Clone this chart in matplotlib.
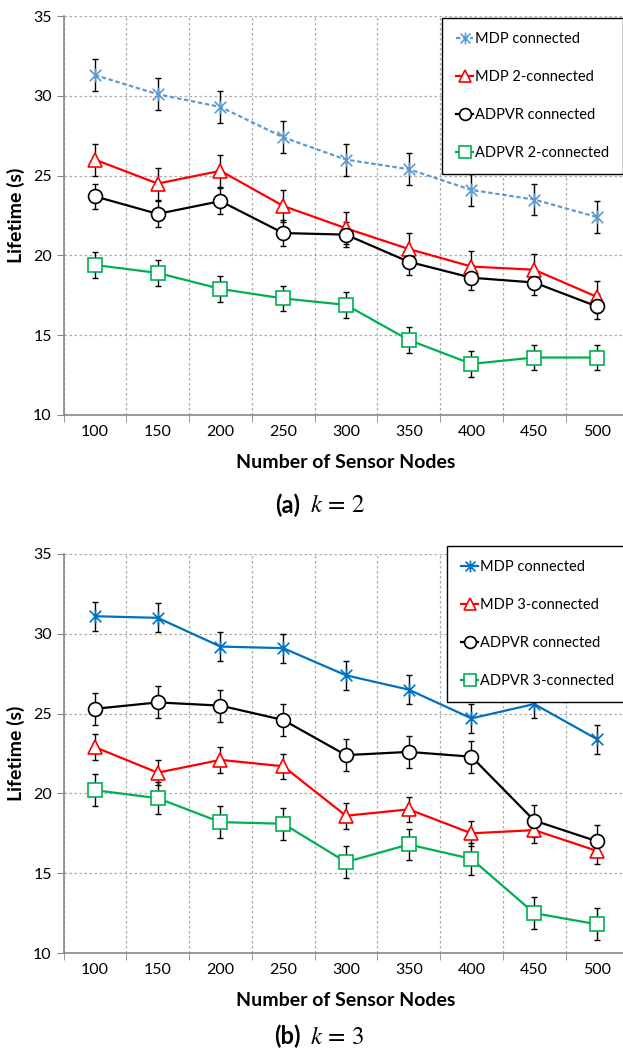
import numpy as np
import matplotlib
matplotlib.use('Agg')
import matplotlib.pyplot as plt
from matplotlib.path import Path

plt.rcParams['font.family'] = ['Lato', 'DejaVu Sans']
plt.rcParams['mathtext.fontset'] = 'stix'

nodes = ['100', '150', '200', '250', '300', '350', '400', '450', '500']

# (a) k = 2
a_mdp_c = [31.3, 30.1, 29.3, 27.4, 26.0, 25.4, 24.1, 23.5, 22.4]
a_mdp_k = [26.0, 24.5, 25.3, 23.1, 21.7, 20.4, 19.3, 19.1, 17.4]
a_adp_c = [23.7, 22.6, 23.4, 21.4, 21.3, 19.6, 18.6, 18.3, 16.8]
a_adp_k = [19.4, 18.9, 17.9, 17.3, 16.9, 14.7, 13.2, 13.6, 13.6]
a_err_mdp_c = [1.0, 1.0, 1.0, 1.0, 1.0, 1.0, 1.0, 1.0, 1.0]
a_err_mdp_k = [1.0, 1.0, 1.0, 1.0, 1.0, 1.0, 1.0, 1.0, 1.0]
a_err_adp_c = [0.8, 0.8, 0.8, 0.8, 0.8, 0.8, 0.8, 0.8, 0.8]
a_err_adp_k = [0.8, 0.8, 0.8, 0.8, 0.8, 0.8, 0.8, 0.8, 0.8]

# (b) k = 3
b_mdp_c = [31.1, 31.0, 29.2, 29.1, 27.4, 26.5, 24.7, 25.6, 23.4]
b_mdp_k = [22.9, 21.3, 22.1, 21.7, 18.6, 19.0, 17.5, 17.7, 16.4]
b_adp_c = [25.3, 25.7, 25.5, 24.6, 22.4, 22.6, 22.3, 18.3, 17.0]
b_adp_k = [20.2, 19.7, 18.2, 18.1, 15.7, 16.8, 15.9, 12.5, 11.8]
b_err_mdp_c = [0.9, 0.9, 0.9, 0.9, 0.9, 0.9, 0.9, 0.9, 0.9]
b_err_mdp_k = [0.8, 0.8, 0.8, 0.8, 0.8, 0.8, 0.8, 0.8, 0.8]
b_err_adp_c = [1.0, 1.0, 1.0, 1.0, 1.0, 1.0, 1.0, 1.0, 1.0]
b_err_adp_k = [1.0, 1.0, 1.0, 1.0, 1.0, 1.0, 1.0, 1.0, 1.0]

x = np.arange(len(nodes))

# excel style asterisk: an x plus a vertical stroke
star = Path([(-1, -1), (1, 1), (-1, 1), (1, -1), (0, -1.2), (0, 1.2)],
            [Path.MOVETO, Path.LINETO] * 3)


def panel(ax, series, k, blue, blue_ls):
    names = ['MDP connected', 'MDP %d-connected' % k,
             'ADPVR connected', 'ADPVR %d-connected' % k]
    colors = [blue, '#FF0000', 'black', '#00B050']
    markers = [star, '^', 'o', 's']
    styles = [blue_ls, '-', '-', '-']
    handles = []
    for (y, e), n, c, m, ls in zip(series, names, colors, markers, styles):
        ax.errorbar(x, y, yerr=e, fmt='none', ecolor='black', elinewidth=1,
                    capsize=2.5, capthick=1, zorder=2)
        h, = ax.plot(x, y, color=c, ls=ls, lw=1.6, marker=m, ms=10,
                     mfc='white', mec=c, mew=1.2, label=n, zorder=3)
        handles.append(h)
    ax.set_xlim(-0.5, len(nodes) - 0.5)
    ax.set_ylim(10, 35)
    ax.set_yticks([10, 15, 20, 25, 30, 35])
    ax.set_xticks(x)
    ax.set_xticklabels(nodes)
    ax.set_xticks(np.arange(-0.5, len(nodes), 1), minor=True)
    ax.tick_params(axis='x', which='major', length=0, labelsize=11.5, pad=7)
    ax.tick_params(axis='x', which='minor', length=5, color='#888888')
    ax.tick_params(axis='y', labelsize=11.5, length=5, color='#888888')
    ax.grid(True, which='minor', axis='x', ls=(0, (2, 2)), color='#aaaaaa', lw=0.9)
    ax.grid(True, which='major', axis='y', ls=(0, (2, 2)), color='#aaaaaa', lw=0.9)
    for s in ['top', 'right']:
        ax.spines[s].set_visible(False)
    for s in ['left', 'bottom']:
        ax.spines[s].set_color('#888888')
        ax.spines[s].set_linewidth(1.2)
    ax.set_ylabel('Lifetime (s)', fontsize=14, fontweight='bold', labelpad=6)
    ax.set_xlabel('Number of Sensor Nodes', fontsize=14, fontweight='bold', labelpad=11)
    return handles


fig = plt.figure(figsize=(6.23, 10.54), dpi=100)
ax1 = fig.add_axes([0.102, 0.6063, 0.9066, 0.3785])
ax2 = fig.add_axes([0.102, 0.0958, 0.9066, 0.3786])

h1 = panel(ax1, [(a_mdp_c, a_err_mdp_c), (a_mdp_k, a_err_mdp_k),
                 (a_adp_c, a_err_adp_c), (a_adp_k, a_err_adp_k)],
           2, '#5B9BD5', (0, (2, 1.2)))
h2 = panel(ax2, [(b_mdp_c, b_err_mdp_c), (b_mdp_k, b_err_mdp_k),
                 (b_adp_c, b_err_adp_c), (b_adp_k, b_err_adp_k)],
           3, '#0070C0', '-')

for h, anchor in [(h1, (0.7095, 0.983)), (h2, (0.7175, 0.482))]:
    leg = fig.legend(handles=h, loc='upper left', bbox_to_anchor=anchor,
                     fontsize=10.5, frameon=True, fancybox=False, framealpha=1,
                     edgecolor='black', labelspacing=1.65, handlelength=1.2,
                     handletextpad=0.1, borderpad=0.95, borderaxespad=0,
                     markerscale=0.85)
    leg.get_frame().set_linewidth(1.0)

fig.text(0.482, 0.521, '(a)', fontsize=17, fontweight='bold', ha='right', va='center')
fig.text(0.497, 0.521, r'$k\,=\,2$', fontsize=18, ha='left', va='center')
fig.text(0.482, 0.0165, '(b)', fontsize=17, fontweight='bold', ha='right', va='center')
fig.text(0.497, 0.0165, r'$k\,=\,3$', fontsize=18, ha='left', va='center')

fig.savefig('out.png', dpi=100)
